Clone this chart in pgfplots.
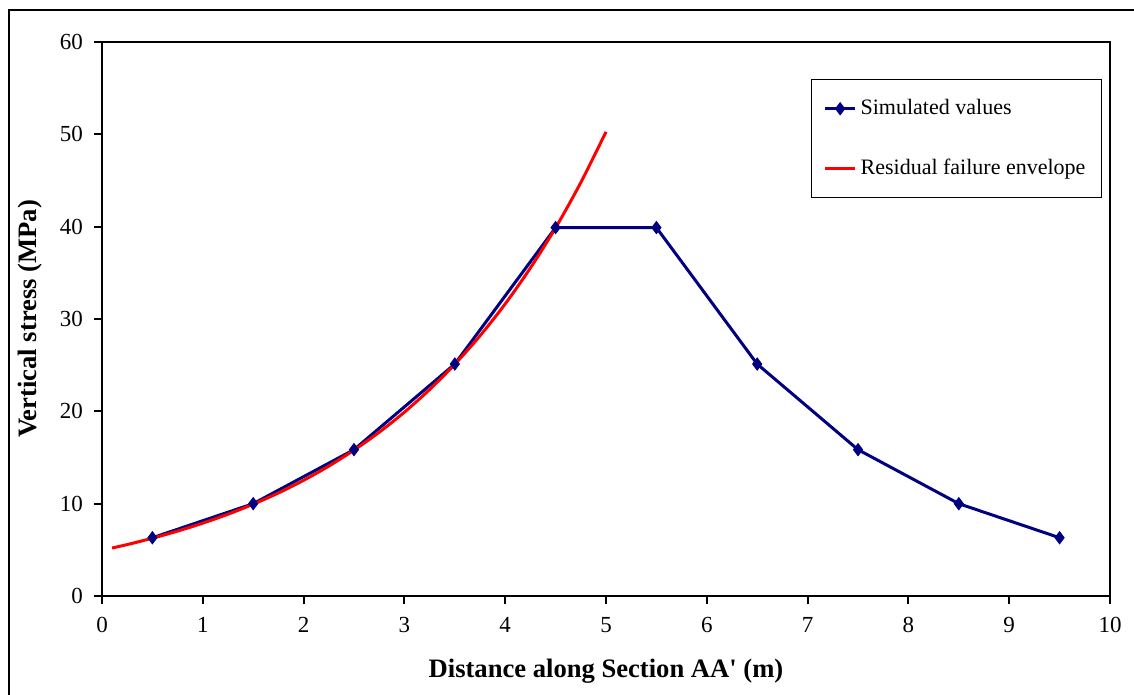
\documentclass[border=0pt]{standalone}
\usepackage{fontspec}
\setmainfont{Liberation Serif}
\newfontfamily\straightfont{Liberation Serif}[Ligatures=TeXOff]
\usepackage{pgfplots}
\pgfplotsset{compat=1.18}
\definecolor{navyline}{RGB}{0,0,128}
\pgfplotsset{
  simleg/.style={legend image code/.code={\draw[##1, mark repeat=2, mark phase=2] plot coordinates {(0pt,0pt) (7.5pt,0pt) (15pt,0pt)};}},
  redleg/.style={legend image code/.code={\draw[##1] (0pt,0pt) -- (15pt,0pt);}},
}
\begin{document}
\begin{tikzpicture}
\begin{axis}[
  at={(51pt,-298pt)}, anchor=south west,
  scale only axis, width=504pt, height=277pt,
  xmin=0, xmax=10, ymin=0, ymax=60,
  xtick={0,1,...,10}, ytick={0,10,...,60},
  axis line style={line width=1pt},
  tick style={line width=1pt, black},
  tick align=outside, major tick length=4pt,
  xtick pos=bottom, ytick pos=left,
  /pgf/number format/assume math mode=true,
  tick label style={font=\fontsize{11.5}{13}\selectfont},
  xticklabel style={yshift=-3pt},
  yticklabel style={xshift=-2pt},
  xlabel={\textbf{Distance along Section AA{\straightfont\bfseries'} (m)}},
  ylabel={\textbf{Vertical stress (MPa)}},
  label style={font=\fontsize{13.3}{15}\selectfont},
  xlabel style={at={(axis description cs:0.5,-0.1354)}, anchor=center},
  ylabel style={at={(axis description cs:-0.0714,0.5)}, anchor=center},
  legend style={draw=black, line width=0.5pt, at={(0.992,0.933)}, anchor=north east,
    font=\fontsize{11}{13}\selectfont, inner xsep=6pt, inner ysep=8pt, row sep=16.8pt,
    cells={anchor=west}},
  legend cell align=left,
  clip=false,
]
\addplot[color=navyline, line width=1.5pt, mark=diamond*, mark size=3pt,
  mark options={solid, fill=navyline, line width=0.5pt}, simleg]
coordinates {(0.5,6.31) (1.5,10.0) (2.5,15.85) (3.5,25.12) (4.5,39.9) (5.5,39.9) (6.5,25.12) (7.5,15.85) (8.5,10.0) (9.5,6.31)};
\addlegendentry{Simulated values}
\addplot[color=red, line width=1.5pt, smooth, mark=none, redleg]
coordinates {(0.1,5.20) (0.25,5.57) (0.5,6.26) (0.75,7.03) (1.0,7.89) (1.25,8.86) (1.5,9.94) (1.75,11.16) (2.0,12.53) (2.25,14.07) (2.5,15.80) (2.75,17.74) (3.0,19.91) (3.25,22.36) (3.5,25.10) (3.75,28.18) (4.0,31.64) (4.25,35.53) (4.5,39.88) (4.75,44.78) (5.0,50.27)};
\addlegendentry{Residual failure envelope}
\end{axis}
\pgfresetboundingbox
\useasboundingbox (0,0) rectangle (567pt,-347.5pt);
\draw[line width=1pt] (4.25pt,-400pt) |- (600pt,-5.25pt);
\end{tikzpicture}
\end{document}
